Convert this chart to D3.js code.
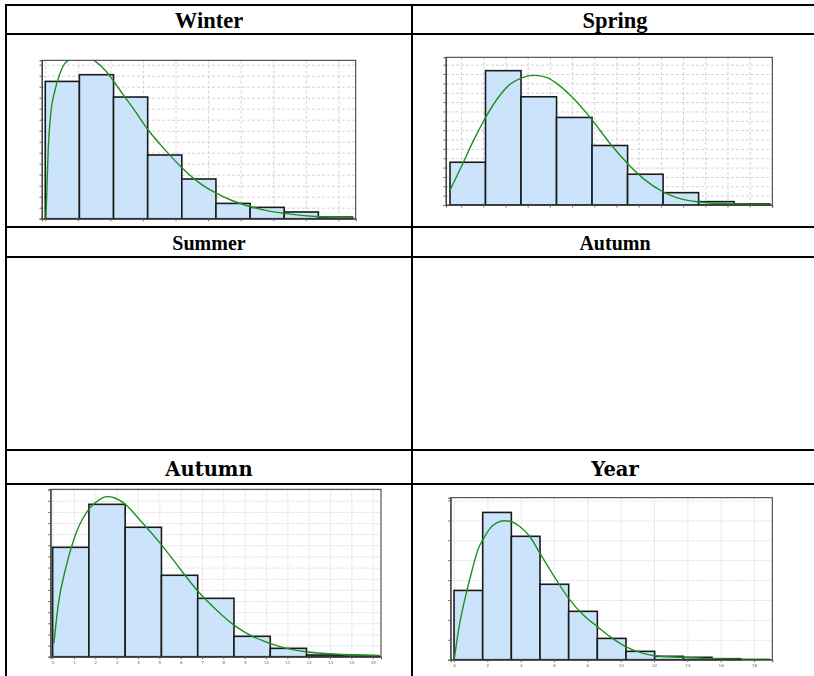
<!DOCTYPE html>
<html>
<head>
<meta charset="utf-8">
<script src="https://cdn.jsdelivr.net/npm/d3@7"></script>
<style>
  html, body { margin: 0; padding: 0; background: #fff; }
  svg { display: block; }
</style>
</head>
<body>
<svg id="chart" width="814" height="676"></svg>
<script>
// ---------------- DATA ----------------
const cellTitles = ["Winter", "Spring", "Summer", "Autumn", "Autumn", "Year"];

// Winter (x in grid units, bins start at 0)
const winterEdges  = [0, 1.048, 2.096, 3.144, 4.192, 5.24, 6.288, 7.336, 8.384, 9.432];
const winterValues = [12.48, 13.09, 11.06, 5.79, 3.61, 1.39, 1.03, 0.61, 0.15];
const winterCurveX = [0.02, 0.04, 0.09, 0.16, 0.30, 0.45, 0.60, 0.71, 1.11, 1.50, 1.88, 2.11, 2.40, 2.70, 3.16, 3.73, 4.21, 4.75, 5.26, 5.77, 6.31, 6.80, 7.34, 8.39, 9.44];
const winterCurveY = [0, 1.70, 6.24, 9.27, 11.70, 13.21, 14.12, 14.39, 14.88, 14.39, 13.36, 12.45, 11.24, 10.03, 8.06, 6.09, 4.58, 3.21, 2.30, 1.61, 1.09, 0.73, 0.48, 0.18, 0.09];

// Spring
const springEdges  = [0.5, 2.1, 3.7, 5.3, 6.9, 8.5, 10.1, 11.7, 13.3, 14.9];
const springValues = [4.57, 14.36, 11.57, 9.36, 6.36, 3.29, 1.32, 0.36, 0.11];
const springCurveX = [0.5, 0.80, 1.10, 1.55, 2.08, 2.60, 3.20, 3.73, 4.28, 4.85, 5.30, 5.91, 6.91, 7.71, 8.50, 9.21, 10.11, 10.71, 11.72, 13.29, 14.88];
const springCurveY = [1.57, 3.05, 4.55, 6.85, 9.25, 11.25, 12.9, 13.6, 13.86, 13.64, 13.0, 11.75, 9.07, 6.57, 4.43, 2.82, 1.39, 0.79, 0.32, 0.11, 0.04];

// Autumn (bottom row)
const autumnEdges  = [0, 1.7, 3.4, 5.1, 6.8, 8.5, 10.2, 11.9, 13.6, 15.3];
const autumnValues = [9.82, 13.68, 11.62, 7.31, 5.24, 1.83, 0.75, 0.15, 0.06];
const autumnCurveX = [0.06, 0.26, 0.65, 1.12, 1.72, 2.22, 2.53, 2.92, 3.42, 4.1, 5.12, 5.96, 6.83, 7.69, 8.5, 9.41, 10.19, 10.97, 11.87, 13.16, 15.31];
const autumnCurveY = [1.2, 4.63, 8.22, 11.2, 13.3, 14.13, 14.37, 14.25, 13.66, 12.25, 10.0, 7.92, 5.83, 4.18, 2.84, 1.79, 1.2, 0.75, 0.45, 0.24, 0.12];
const autumnTickLabels = ["0","1","2","3","4","5","6","7","8","9","10","11","12","13","14","15"];

// Year
const yearEdges  = [0, 1.72, 3.44, 5.16, 6.88, 8.6, 10.32, 12.04, 13.76, 15.48, 17.2];
const yearValues = [3.48, 7.40, 6.20, 3.79, 2.43, 1.07, 0.42, 0.17, 0.12, 0.05];
const yearCurveX = [0.02, 0.16, 0.36, 0.66, 1.06, 1.46, 1.72, 2.16, 2.56, 3.02, 3.44, 3.96, 4.56, 5.16, 5.96, 6.88, 7.76, 8.6, 9.36, 10.32, 11.36, 12.04, 13.76, 15.52, 18.96];
const yearCurveY = [0.07, 0.90, 1.91, 3.08, 4.42, 5.59, 6.01, 6.60, 6.88, 6.98, 6.93, 6.68, 6.18, 5.34, 4.25, 3.08, 2.24, 1.66, 1.16, 0.65, 0.32, 0.20, 0.12, 0.05, 0.02];
const yearTickLabels = ["0","2","4","6","8","10","12","14","16","18"];

// ---------------- DRAW ----------------
const svg = d3.select("#chart");

// table lines
const tbl = svg.append("g").attr("stroke", "#000").attr("stroke-width", 2);
[5, 34, 227, 257, 450, 484].forEach(y => tbl.append("line").attr("x1", 5).attr("x2", 820).attr("y1", y).attr("y2", y));
[6, 412].forEach(x => tbl.append("line").attr("x1", x).attr("x2", x).attr("y1", 4).attr("y2", 680));

// titles
const titlePos = [
  {x: 209, y: 28, f: "Liberation Serif", s: 22.5},
  {x: 615, y: 28, f: "Liberation Serif", s: 22.5},
  {x: 209, y: 250, f: "Liberation Serif", s: 20},
  {x: 615, y: 250, f: "Liberation Serif", s: 20},
  {x: 209, y: 476, f: "DejaVu Serif", s: 19.5},
  {x: 615, y: 476, f: "DejaVu Serif", s: 19.5}
];
cellTitles.forEach((t, i) => {
  const p = titlePos[i];
  svg.append("text").attr("x", p.x).attr("y", p.y).attr("text-anchor", "middle")
    .attr("font-family", p.f).attr("font-weight", "bold").attr("font-size", p.s)
    .attr("fill", "#000").text(t);
});

let clipId = 0;
function drawHist(cfg) {
  const g = svg.append("g");
  const x = d3.scaleLinear().domain(cfg.xDomain).range([cfg.left, cfg.right]);
  const y = d3.scaleLinear().domain(cfg.yDomain).range([cfg.bottom, cfg.top]);
  const w = cfg.right - cfg.left, h = cfg.bottom - cfg.top;

  g.append("rect").attr("x", cfg.left).attr("y", cfg.top).attr("width", w).attr("height", h).attr("fill", "#fff");

  // grid
  const xg = d3.range(Math.ceil(cfg.xDomain[0] / cfg.xStep) * cfg.xStep, cfg.xDomain[1], cfg.xStep);
  const yg = d3.range(cfg.yStep, cfg.yDomain[1], cfg.yStep);
  g.append("g").attr("transform", `translate(0,${cfg.bottom})`)
    .call(d3.axisBottom(x).tickValues(xg).tickSize(-h).tickFormat(""))
    .call(a => a.select(".domain").remove())
    .selectAll("line").attr("stroke", cfg.gridColor).attr("stroke-dasharray", cfg.gridDash);
  g.append("g").attr("transform", `translate(${cfg.left},0)`)
    .call(d3.axisLeft(y).tickValues(yg).tickSize(-w).tickFormat(""))
    .call(a => a.select(".domain").remove())
    .selectAll("line").attr("stroke", cfg.gridColor).attr("stroke-dasharray", cfg.gridDash);

  // bars
  const bins = cfg.values.map((v, i) => ({x0: cfg.edges[i], x1: cfg.edges[i + 1], v}));
  g.append("g").selectAll("rect").data(bins).join("rect")
    .attr("x", d => x(d.x0)).attr("width", d => x(d.x1) - x(d.x0))
    .attr("y", d => y(d.v)).attr("height", d => y(0) - y(d.v))
    .attr("fill", "#cbe4fb").attr("stroke", "#1a1a1a").attr("stroke-width", 1.6);

  // curve
  const id = "clip" + (clipId++);
  svg.append("clipPath").attr("id", id).append("rect")
    .attr("x", cfg.left).attr("y", cfg.top).attr("width", w).attr("height", h);
  const pts = cfg.curveX.map((cx, i) => [cx, cfg.curveY[i]]);
  g.append("path").datum(pts).attr("clip-path", `url(#${id})`)
    .attr("fill", "none").attr("stroke", "#1f8f1f").attr("stroke-width", 1.4)
    .attr("d", d3.line().x(d => x(d[0])).y(d => y(d[1])).curve(d3.curveMonotoneX));

  // frame
  g.append("rect").attr("x", cfg.left).attr("y", cfg.top).attr("width", w).attr("height", h)
    .attr("fill", "none").attr("stroke", "#333").attr("stroke-width", 1);

  // axes with small ticks
  const ax = g.append("g").attr("transform", `translate(0,${cfg.bottom})`)
    .call(d3.axisBottom(x).tickValues(cfg.xTicks).tickSize(2.5).tickPadding(1.5)
      .tickFormat((d, i) => cfg.labels ? cfg.labels[i] : ""));
  ax.select(".domain").attr("stroke", "#444");
  ax.selectAll("line").attr("stroke", "#666");
  ax.selectAll("text").attr("font-size", 4).attr("fill", "#666").attr("font-family", "DejaVu Sans");
  const ay = g.append("g").attr("transform", `translate(${cfg.left},0)`)
    .call(d3.axisLeft(y).tickValues(d3.range(0, cfg.yDomain[1], cfg.yStep)).tickSize(2.5).tickFormat(""));
  ay.select(".domain").attr("stroke", "#444");
  ay.selectAll("line").attr("stroke", "#666");
}

drawHist({
  left: 42, right: 355.7, top: 60.3, bottom: 218.7,
  xDomain: [-0.1, 9.53], yDomain: [0, 14.4], xStep: 1, yStep: 1,
  xTicks: d3.range(0, 10, 1),
  gridColor: "#d4d4d4", gridDash: "3,2",
  edges: winterEdges, values: winterValues, curveX: winterCurveX, curveY: winterCurveY
});
drawHist({
  left: 446, right: 772.3, top: 57.3, bottom: 205,
  xDomain: [0.32, 15.02], yDomain: [0, 15.79], xStep: 1, yStep: 1,
  xTicks: d3.range(1, 16, 1),
  gridColor: "#d4d4d4", gridDash: "3,2",
  edges: springEdges, values: springValues, curveX: springCurveX, curveY: springCurveY
});
drawHist({
  left: 50.7, right: 381, top: 489.3, bottom: 656.7,
  xDomain: [-0.09, 15.39], yDomain: [0, 15.03], xStep: 1, yStep: 1,
  xTicks: d3.range(0, 16, 1), labels: autumnTickLabels,
  gridColor: "#e6e6e6", gridDash: "4,1",
  edges: autumnEdges, values: autumnValues, curveX: autumnCurveX, curveY: autumnCurveY
});
drawHist({
  left: 450.7, right: 772.3, top: 497.7, bottom: 659.7,
  xDomain: [-0.2, 19.1], yDomain: [0, 8.14], xStep: 2, yStep: 1,
  xTicks: d3.range(0, 20, 2), labels: yearTickLabels,
  gridColor: "#e6e6e6", gridDash: "4,1",
  edges: yearEdges, values: yearValues, curveX: yearCurveX, curveY: yearCurveY
});
</script>
</body>
</html>
